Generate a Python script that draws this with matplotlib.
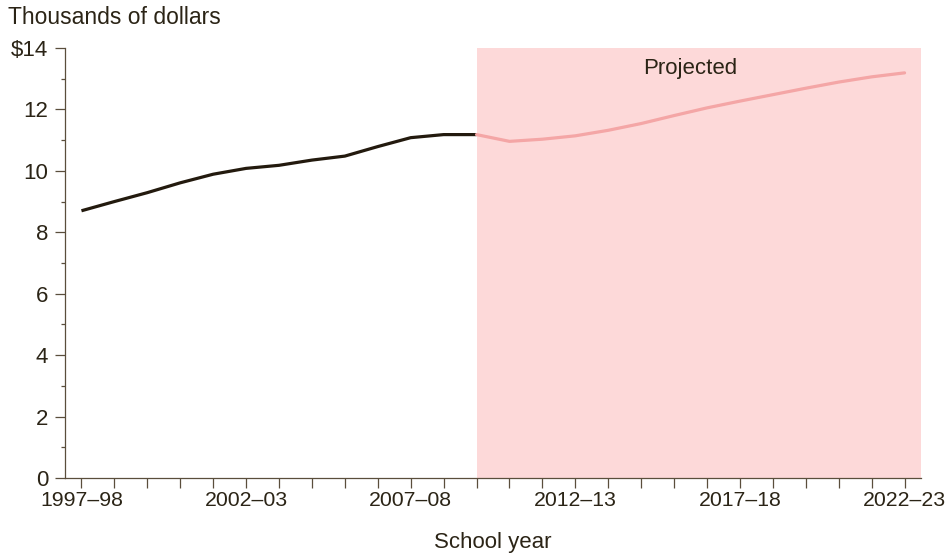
import matplotlib
matplotlib.use("Agg")
import matplotlib.pyplot as plt
from matplotlib.ticker import MultipleLocator

# Data (thousands of dollars), school years 1997-98 .. 2022-23
years = list(range(1997, 2023))
year_labels = [f"{y}\u2013{str(y + 1)[-2:]}" for y in years]

actual = [8.70, 9.00, 9.29, 9.61, 9.89, 10.08, 10.18, 10.35, 10.48,
          10.79, 11.08, 11.18, 11.18]
projected = [11.18, 10.96, 11.03, 11.14, 11.32, 11.54, 11.80, 12.05,
             12.27, 12.48, 12.69, 12.89, 13.06, 13.19]

y_ticks = [0, 2, 4, 6, 8, 10, 12, 14]
y_tick_labels = ["0", "2", "4", "6", "8", "10", "12", "$14"]

TEXT = "#2b2416"
SPINE = "#5a4e3c"
FS = 16

plt.rcParams['font.family'] = ['Liberation Sans', 'DejaVu Sans']

fig = plt.figure(figsize=(9.46, 5.56), dpi=100)
ax = fig.add_axes([0.0687, 0.1403, 0.9049, 0.7734])

x_act = list(range(len(actual)))
x_proj = list(range(len(actual) - 1, len(actual) - 1 + len(projected)))

# projected shading
ax.axvspan(x_proj[0], 25.5, color="#fdd9d9", lw=0, zorder=0)

ax.plot(x_act, actual, color="#231a0e", lw=2.3, solid_capstyle="butt", zorder=3)
ax.plot(x_proj, projected, color="#f4a6a6", lw=2.3, solid_capstyle="round", zorder=3)

ax.text(18.5, 13.33, "Projected", ha="center", va="center", fontsize=FS, color=TEXT)

ax.set_xlim(-0.5, 25.5)
ax.set_ylim(0, 14)

ax.set_xticks(range(len(years)))
ax.set_xticklabels([lab if i % 5 == 0 else "" for i, lab in enumerate(year_labels)])
ax.set_yticks(y_ticks)
ax.set_yticklabels(y_tick_labels)
ax.yaxis.set_minor_locator(MultipleLocator(1))

ax.tick_params(axis="both", which="major", length=7.2, width=0.9, color=SPINE,
               labelsize=FS, labelcolor=TEXT, direction="out")
ax.tick_params(axis="x", which="major", pad=2, labelsize=15.3)
ax.tick_params(axis="y", which="major", pad=5)
ax.tick_params(axis="y", which="minor", length=3, width=0.9, color=SPINE)

for s in ["top", "right"]:
    ax.spines[s].set_visible(False)
for s in ["left", "bottom"]:
    ax.spines[s].set_color(SPINE)
    ax.spines[s].set_linewidth(0.9)

ax.set_xlabel("School year", fontsize=FS, color=TEXT, labelpad=16)
fig.text(8 / 946, 1 - 17 / 556, "Thousands of dollars", ha="left", va="center",
         fontsize=16.5, color=TEXT)

fig.savefig("out.png", dpi=100)
